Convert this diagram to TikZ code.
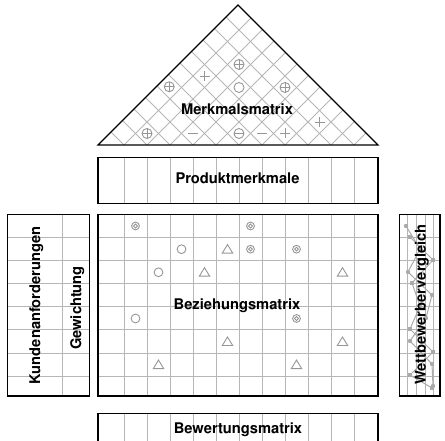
\documentclass[tikz,border=0pt]{standalone}
\usepackage[T1]{fontenc}
\usepackage{helvet}
\renewcommand{\familydefault}{\sfdefault}
\definecolor{gridgray}{RGB}{182,182,182}
\definecolor{symgray}{RGB}{150,150,150}
\definecolor{cmpgray}{RGB}{170,170,170}
\tikzset{
  frame/.style={draw=black,line width=1.1pt},
  gridl/.style={draw=gridgray,line width=1pt},
  sym/.style={draw=symgray,line width=0.9pt},
  lbl/.style={font=\fontfamily{phv}\fontsize{14.7}{16}\selectfont\bfseries,inner sep=0pt,text=black},
  cmpline/.style={draw=cmpgray,line width=1pt},
  qstrong/.pic={\draw[sym] (0,0) circle[radius=3.9pt]; \draw[sym] (0,0) circle[radius=1.9pt];},
  qmedium/.pic={\draw[sym] (0,0) circle[radius=4.4pt];},
  qweak/.pic={\draw[sym,line join=miter] (0,4.6) -- (5.2,-3.9) -- (-5.2,-3.9) -- cycle;},
  rplus/.pic={\draw[sym] (-5,0) -- (5,0) (0,-5) -- (0,5);},
  rminus/.pic={\draw[sym] (-5,0) -- (5,0);},
  roplus/.pic={\draw[sym] (0,0) circle[radius=5pt]; \draw[sym] (-5,0) -- (5,0) (0,-5) -- (0,5);},
  rominus/.pic={\draw[sym] (0,0) circle[radius=5pt]; \draw[sym] (-5,0) -- (5,0);},
  rcirc/.pic={\draw[sym] (0,0) circle[radius=5pt];},
  sqmark/.pic={\fill[cmpgray] (-2.2,-2.2) rectangle (2.2,2.2);},
  dotmark/.pic={\fill[cmpgray] (0,0) circle[radius=2.2pt];}
}
\begin{document}
\begin{tikzpicture}[x=1pt,y=1pt]
\useasboundingbox (0,0) rectangle (445,441);

% ---------- roof (Merkmalsmatrix)
\begin{scope}
  \clip (98,296) -- (238,436) -- (378,296) -- cycle;
  \foreach \b in {124,147,...,354} {
    \draw[gridl] (\b,296) -- ++(-160,160);
    \draw[gridl] (\b,296) -- ++(160,160);
  }
\end{scope}
\draw[frame,line join=miter] (98,296) -- (238,436) -- (378,296) -- cycle;
\pic at (239,376.5) {roplus};
\pic at (169.25,354.25) {roplus};
\pic at (285,353.5) {roplus};
\pic at (147,307.5) {roplus};
\pic at (204.5,365) {rplus};
\pic at (319.5,319) {rplus};
\pic at (285,307.5) {rplus};
\pic at (239,353.5) {rcirc};
\pic at (193,307.5) {rminus};
\pic at (262,307.5) {rminus};
\pic at (239,307.5) {rominus};
\node[lbl,anchor=base] (merk) at (237,326) {Merkmalsmatrix};

% ---------- Produktmerkmale
\foreach \b in {124,147,...,354} \draw[gridl] (\b,237.7) -- (\b,283.7);
\draw[frame] (98,237.7) rectangle (378,283.7);
\node[lbl,anchor=base] (prod) at (237.5,257.7) {Produktmerkmale};

% ---------- Beziehungsmatrix
\foreach \b in {124,147,...,354} \draw[gridl] (\b,45) -- (\b,226.5);
\foreach \r in {203.4,180.3,157.2,134.1,111,87.9,64.8} \draw[gridl] (98,\r) -- (378,\r);
\draw[frame] (98,45) rectangle (378,226.5);
\pic at (135.5,215) {qstrong};
\pic at (250.5,215) {qstrong};
\pic at (250.5,191.8) {qstrong};
\pic at (296.5,191.8) {qstrong};
\pic at (296.5,122.5) {qstrong};
\pic at (181.5,191.8) {qmedium};
\pic at (158.5,168.7) {qmedium};
\pic at (135.5,122.5) {qmedium};
\pic at (227.5,191.8) {qweak};
\pic at (204.5,168.7) {qweak};
\pic at (342.5,168.7) {qweak};
\pic at (227.5,99.4) {qweak};
\pic at (342.5,99.4) {qweak};
\pic at (158.5,76.3) {qweak};
\pic at (296.5,76.3) {qweak};
\node[lbl,anchor=base] (bez) at (237,131) {Beziehungsmatrix};

% ---------- Kundenanforderungen / Gewichtung
\draw[gridl] (62.7,45) -- (62.7,226.5);
\foreach \r in {203.4,180.3,157.2,134.1,111,87.9,64.8} \draw[gridl] (7.3,\r) -- (89.3,\r);
\draw[frame] (7.3,45) rectangle (89.3,226.5);
\node[lbl,anchor=base,rotate=90] (kunde) at (40,135.5) {Kundenanforderungen};
\node[lbl,anchor=base,rotate=90] (gew) at (81,133) {Gewichtung};

% ---------- Wettbewerbervergleich
\foreach \b in {407,416.5,425.5,433} \draw[gridl] (\b,45) -- (\b,226.5);
\foreach \r in {203.4,180.3,157.2,134.1,111,87.9,64.8} \draw[gridl] (399.3,\r) -- (440,\r);
\draw[cmpline] (406,215) -- (420,192) -- (408,169) -- (432,146) -- (426,123) -- (410,100) -- (432,77) -- (433,55);
\draw[cmpline] (410,204) -- (433,181) -- (412,158) -- (420,135) -- (410,112) -- (433,89) -- (410,66) -- (432,53);
\foreach \p in {(406,215),(420,192),(408,169),(432,146),(426,123),(410,100),(432,77),(433,55)} \pic at \p {dotmark};
\foreach \p in {(410,204),(433,181),(412,158),(420,135),(410,112),(433,89),(410,66),(432,53)} \pic at \p {sqmark};
\draw[frame] (399.3,45) rectangle (440,226.5);
\node[lbl,anchor=base,rotate=90] (wett) at (425.5,136.5) {Wettbewerbervergleich};

% ---------- Bewertungsmatrix
\foreach \b in {124,147,...,354} \draw[gridl] (\b,0) -- (\b,27.7);
\draw[frame] (98,0) -- (98,27.7) -- (378,27.7) -- (378,0);
\node[lbl,anchor=base] (bew) at (238,7.7) {Bewertungsmatrix};
\end{tikzpicture}
\end{document}
